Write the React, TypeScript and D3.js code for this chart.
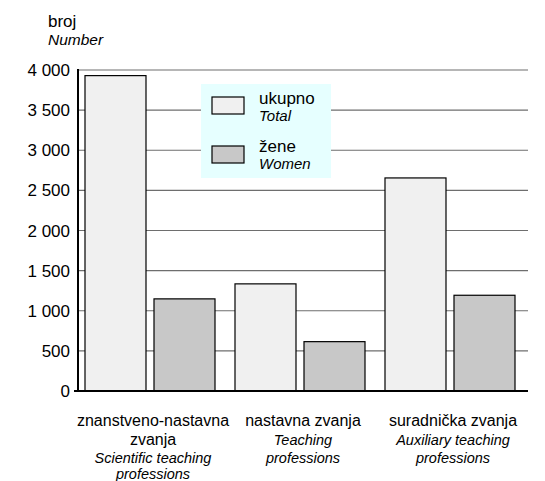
import { useEffect, useRef } from "react";
import * as d3 from "d3";

const categories = ["znanstveno-nastavna zvanja", "nastavna zvanja", "suradnička zvanja"];
const categoryLines: [string, boolean][][] = [
  [["znanstveno-nastavna", false], ["zvanja", false], ["Scientific teaching", true], ["professions", true]],
  [["nastavna zvanja", false], ["Teaching", true], ["professions", true]],
  [["suradnička zvanja", false], ["Auxiliary teaching", true], ["professions", true]],
];
const seriesKeys = ["ukupno", "žene"];
const seriesEn = ["Total", "Women"];
const totalValues = [3930, 1335, 2655];
const womenValues = [1148, 615, 1193];
const yTicks = [0, 500, 1000, 1500, 2000, 2500, 3000, 3500, 4000];

const fills = ["#f0f0f0", "#c8c8c8"];
const font = "Liberation Sans, Arial, sans-serif";

export default function App() {
  const ref = useRef<SVGSVGElement>(null);

  useEffect(() => {
    if (!ref.current) return;
    const svg = d3.select(ref.current);
    svg.selectAll("*").remove();

    const left = 78;
    const right = 528;
    const top = 70;
    const bottom = 391;

    const x0 = d3.scaleBand().domain(categories).range([left, right]);
    const x1 = d3.scaleBand().domain(seriesKeys).range([7, 137]).paddingInner(0.116);
    const y = d3.scaleLinear().domain([0, 4000]).range([bottom, top]);

    // gridlines
    svg.append("g")
      .selectAll("line")
      .data(yTicks.filter((d) => d > 0))
      .join("line")
      .attr("x1", left)
      .attr("x2", right)
      .attr("y1", (d) => y(d))
      .attr("y2", (d) => y(d))
      .attr("stroke", "#6e6e6e")
      .attr("stroke-width", 1.2);

    // y tick labels
    svg.append("g")
      .selectAll("text")
      .data(yTicks)
      .join("text")
      .attr("x", 70)
      .attr("y", (d) => y(d) + 6)
      .attr("text-anchor", "end")
      .attr("font-family", font)
      .attr("font-size", 17)
      .attr("fill", "#000")
      .text((d) => d3.format(",")(d).replace(",", " "));

    // bars
    const rows = categories.map((c, i) => ({ c, vals: [totalValues[i], womenValues[i]] }));
    const grp = svg.append("g")
      .selectAll("g")
      .data(rows)
      .join("g")
      .attr("transform", (d) => `translate(${x0(d.c)},0)`);
    grp.selectAll("rect")
      .data((d) => d.vals.map((v, k) => ({ k: seriesKeys[k], v, i: k })))
      .join("rect")
      .attr("x", (d) => x1(d.k) ?? 0)
      .attr("y", (d) => y(d.v))
      .attr("width", x1.bandwidth())
      .attr("height", (d) => bottom - y(d.v))
      .attr("fill", (d) => fills[d.i])
      .attr("stroke", "#000")
      .attr("stroke-width", 1.2);

    // axes lines
    svg.append("line")
      .attr("x1", left).attr("x2", left)
      .attr("y1", top - 1).attr("y2", bottom + 1)
      .attr("stroke", "#000").attr("stroke-width", 2);
    svg.append("line")
      .attr("x1", 74).attr("x2", right)
      .attr("y1", bottom).attr("y2", bottom)
      .attr("stroke", "#000").attr("stroke-width", 2);

    // category labels
    const lineY = [426, 445, 463, 479];
    categories.forEach((c, i) => {
      const cx = (x0(c) ?? 0) + x0.bandwidth() / 2;
      const t = svg.append("text")
        .attr("text-anchor", "middle")
        .attr("font-family", font)
        .attr("fill", "#000");
      categoryLines[i].forEach(([s, it], j) => {
        t.append("tspan")
          .attr("x", cx)
          .attr("y", lineY[j])
          .attr("font-size", it ? 14.5 : 16)
          .attr("font-style", it ? "italic" : "normal")
          .text(s);
      });
    });

    // y title
    svg.append("text")
      .attr("x", 48).attr("y", 27)
      .attr("font-family", font).attr("font-size", 17)
      .text("broj");
    svg.append("text")
      .attr("x", 48).attr("y", 45)
      .attr("font-family", font).attr("font-size", 15.5)
      .attr("font-style", "italic")
      .text("Number");

    // legend
    const lg = svg.append("g");
    lg.append("rect")
      .attr("x", 201).attr("y", 84)
      .attr("width", 130).attr("height", 94)
      .attr("fill", "#e6ffff");
    seriesKeys.forEach((k, i) => {
      const yy = 97 + i * 48;
      lg.append("rect")
        .attr("x", 212).attr("y", yy + i)
        .attr("width", 32).attr("height", 17)
        .attr("fill", fills[i])
        .attr("stroke", "#000").attr("stroke-width", 1.2);
      lg.append("text")
        .attr("x", 259).attr("y", yy + 7)
        .attr("font-family", font).attr("font-size", 17)
        .text(k);
      lg.append("text")
        .attr("x", 259).attr("y", yy + 24)
        .attr("font-family", font).attr("font-size", 15)
        .attr("font-style", "italic")
        .text(seriesEn[i]);
    });
  }, []);

  return (
    <div style={{ position: "absolute", left: 0, top: 0 }}>
      <svg ref={ref} width={545} height={481} style={{ display: "block", background: "#fff" }} />
    </div>
  );
}
